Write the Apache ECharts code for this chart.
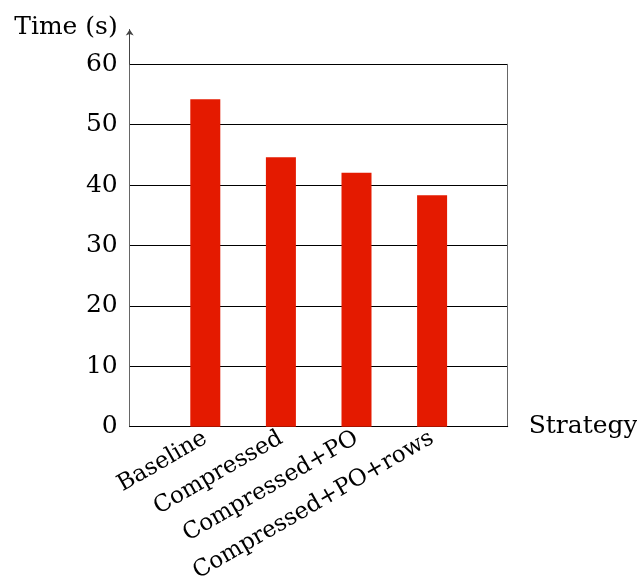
<!DOCTYPE html>
<html>
<head>
<meta charset="utf-8">
<script src="https://cdn.jsdelivr.net/npm/echarts@6/dist/echarts.min.js"></script>
<style>html,body{margin:0;padding:0;background:#fff}#c{width:637px;height:576px}</style>
</head>
<body>
<div id="c"></div>
<script>
const categories = ['Baseline', 'Compressed', 'Compressed+PO', 'Compressed+PO+rows'];
const timeValues = [54.2, 44.6, 42.05, 38.3];
const yTicks = [0, 10, 20, 30, 40, 50, 60];

const FONT = 'DejaVu Serif';
const chart = echarts.init(document.getElementById('c'), null, {renderer: 'canvas'});
chart.setOption({
  animation: false,
  backgroundColor: '#fff',
  grid: [
    {left: 129.7, top: 64.3, width: 378, height: 362.4, containLabel: false, outerBoundsMode: 'none'},
    {left: 129.7, top: 29.5, width: 1, height: 34.8, containLabel: false, outerBoundsMode: 'none'}
  ],
  xAxis: [
    {
      gridIndex: 0, type: 'value', min: -1, max: 4, interval: 1,
      name: 'Strategy', nameLocation: 'end', nameGap: 21,
      nameTextStyle: {fontFamily: FONT, fontSize: 25, color: '#000'},
      axisLine: {show: true, onZero: false, lineStyle: {color: '#000', width: 1}},
      axisTick: {show: false},
      splitLine: {show: false},
      axisLabel: {
        rotate: 30, margin: 10, fontFamily: FONT, fontSize: 23, color: '#000',
        formatter: v => (categories[v] !== undefined ? categories[v] : '')
      }
    },
    {gridIndex: 1, type: 'value', show: false}
  ],
  yAxis: [
    {
      gridIndex: 0, type: 'value', min: yTicks[0], max: yTicks[yTicks.length - 1], interval: 10,
      axisLine: {show: true, onZero: false, lineStyle: {color: '#666', width: 1}},
      axisTick: {show: false},
      splitLine: {show: true, lineStyle: {color: '#000', width: 1}},
      axisLabel: {margin: 12, fontFamily: FONT, fontSize: 25, color: '#000'}
    },
    {
      gridIndex: 0, type: 'value', position: 'right', min: 0, max: 60,
      axisLine: {show: true, onZero: false, lineStyle: {color: '#666', width: 1}},
      axisTick: {show: false}, axisLabel: {show: false}, splitLine: {show: false}
    },
    {
      gridIndex: 1, type: 'value', min: 0, max: 1,
      name: 'Time (s)', nameLocation: 'end', nameGap: 2,
      nameTextStyle: {fontFamily: FONT, fontSize: 25, color: '#000', align: 'right', verticalAlign: 'middle', padding: [0, 12, 0, 0]},
      axisLine: {show: true, onZero: false, symbol: ['none', 'arrow'], symbolSize: [6, 6], lineStyle: {color: '#444', width: 1}},
      axisTick: {show: false}, axisLabel: {show: false}, splitLine: {show: false}
    }
  ],
  series: [{
    type: 'bar',
    xAxisIndex: 0, yAxisIndex: 0,
    barWidth: 30,
    itemStyle: {color: '#e41a00'},
    data: categories.map((c, i) => [i, timeValues[i]])
  }]
});
</script>
</body>
</html>
